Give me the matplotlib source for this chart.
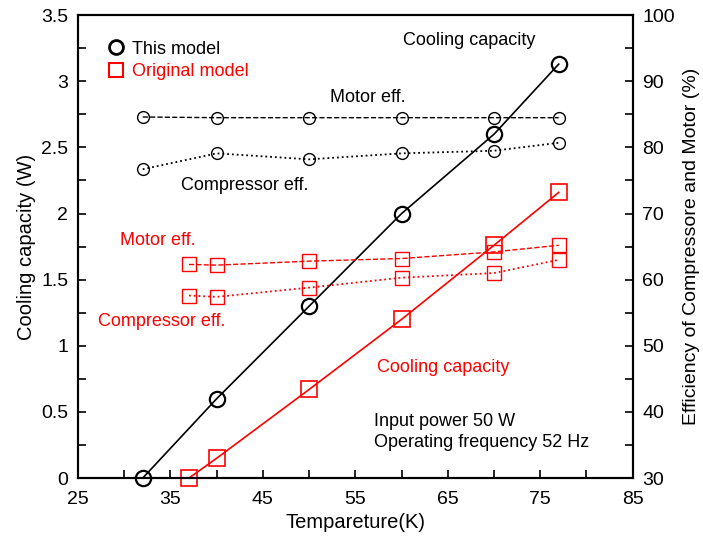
import numpy as np
import matplotlib
matplotlib.use('Agg')
import matplotlib.pyplot as plt
from matplotlib.lines import Line2D
from matplotlib.ticker import MultipleLocator

plt.rcParams['font.family'] = ['Liberation Sans', 'DejaVu Sans']

# данные: температура и холодопроизводительность
temp_this = [32, 40, 50, 60, 70, 77]
cool_this = [0.0, 0.60, 1.30, 2.00, 2.60, 3.13]
temp_orig = [37, 40, 50, 60, 70, 77]
cool_orig = [0.0, 0.15, 0.67, 1.20, 1.76, 2.16]

# КПД двигателя и компрессора (%)
motor_this = [84.6, 84.5, 84.5, 84.5, 84.5, 84.5]
comp_this = [76.7, 79.1, 78.2, 79.1, 79.5, 80.7]
motor_orig = [62.3, 62.2, 62.8, 63.2, 64.2, 65.2]
comp_orig = [57.6, 57.4, 58.8, 60.3, 61.0, 63.0]

x_ticks = [25, 35, 45, 55, 65, 75, 85]
RED = '#ff0000'

fig = plt.figure(figsize=(7.03, 5.42), dpi=100)
ax = fig.add_axes([0.111, 0.118, 0.789, 0.854])
ax2 = ax.twinx()

# холодопроизводительность (левая ось)
ax.plot(temp_this, cool_this, '-', color='black', lw=1.2, marker='o', ms=11,
        mfc='none', mec='black', mew=1.6, zorder=5, clip_on=False)
ax.plot(temp_orig, cool_orig, '-', color=RED, lw=1.2, marker='s', ms=11,
        mfc='none', mec=RED, mew=1.2, zorder=5, clip_on=False)

# КПД (правая ось)
ax2.plot(temp_this, motor_this, '--', color='black', lw=1, marker='o', ms=8.5,
         mfc='none', mec='black', mew=1)
ax2.plot(temp_this, comp_this, ':', color='black', lw=1.3, marker='o', ms=8.5,
         mfc='none', mec='black', mew=1)
ax2.plot(temp_orig, motor_orig, '--', color=RED, lw=1, marker='s', ms=10,
         mfc='none', mec=RED, mew=1)
ax2.plot(temp_orig, comp_orig, ':', color=RED, lw=1.3, marker='s', ms=10,
         mfc='none', mec=RED, mew=1)

ax.set_xlim(25, 85)
ax.set_ylim(0, 3.5)
ax2.set_ylim(30, 100)

ax.set_xticks(x_ticks)
ax.xaxis.set_minor_locator(MultipleLocator(5))
ax.set_yticks(np.arange(0, 3.51, 0.5))
ax.set_yticklabels(['0', '0.5', '1', '1.5', '2', '2.5', '3', '3.5'])
ax.yaxis.set_minor_locator(MultipleLocator(0.25))
ax2.yaxis.set_major_locator(MultipleLocator(10))
ax2.yaxis.set_minor_locator(MultipleLocator(5))

ax.tick_params(axis='both', which='both', direction='in', labelsize=14, width=1.2, length=6)
ax.tick_params(axis='both', which='major', pad=7)
ax.tick_params(axis='x', which='major', pad=9)
ax2.tick_params(axis='y', which='both', direction='in', labelsize=14, width=1.2, length=6, pad=7)

for a in (ax, ax2):
    for s in a.spines.values():
        s.set_linewidth(1.5)

ax.set_xlabel('Tempareture(K)', fontsize=14.5, labelpad=4)
ax.set_ylabel('Cooling capacity (W)', fontsize=14.5, labelpad=4)
ax2.set_ylabel('Efficiency of Compressore and Motor (%)', fontsize=14, labelpad=6)

# подписи
t = ax.transAxes
fs = 13
ax.text(0.705, 0.946, 'Cooling capacity', transform=t, ha='center', va='center', fontsize=fs)
ax.text(0.523, 0.823, 'Motor eff.', transform=t, ha='center', va='center', fontsize=fs)
ax.text(0.301, 0.631, 'Compressor eff.', transform=t, ha='center', va='center', fontsize=fs)
ax.text(0.144, 0.514, 'Motor eff.', transform=t, ha='center', va='center', fontsize=fs, color=RED)
ax.text(0.151, 0.339, 'Compressor eff.', transform=t, ha='center', va='center', fontsize=fs, color=RED)
ax.text(0.658, 0.238, 'Cooling capacity', transform=t, ha='center', va='center', fontsize=fs, color=RED)
ax.text(0.533, 0.123, 'Input power 50 W', transform=t, ha='left', va='center', fontsize=fs)
ax.text(0.533, 0.076, 'Operating frequency 52 Hz', transform=t, ha='left', va='center', fontsize=fs)

# легенда
handles = [Line2D([], [], ls='none', marker='o', ms=10, mfc='none', mec='black', mew=2),
           Line2D([], [], ls='none', marker='s', ms=10, mfc='none', mec=RED, mew=1.5)]
leg = ax.legend(handles, ['This model', 'Original model'], loc='upper left',
                frameon=False, fontsize=13, handlelength=1, handletextpad=0.4,
                labelspacing=0.3, bbox_to_anchor=(0.022, 0.98))
leg.get_texts()[1].set_color(RED)

fig.savefig('out.png', dpi=100)
